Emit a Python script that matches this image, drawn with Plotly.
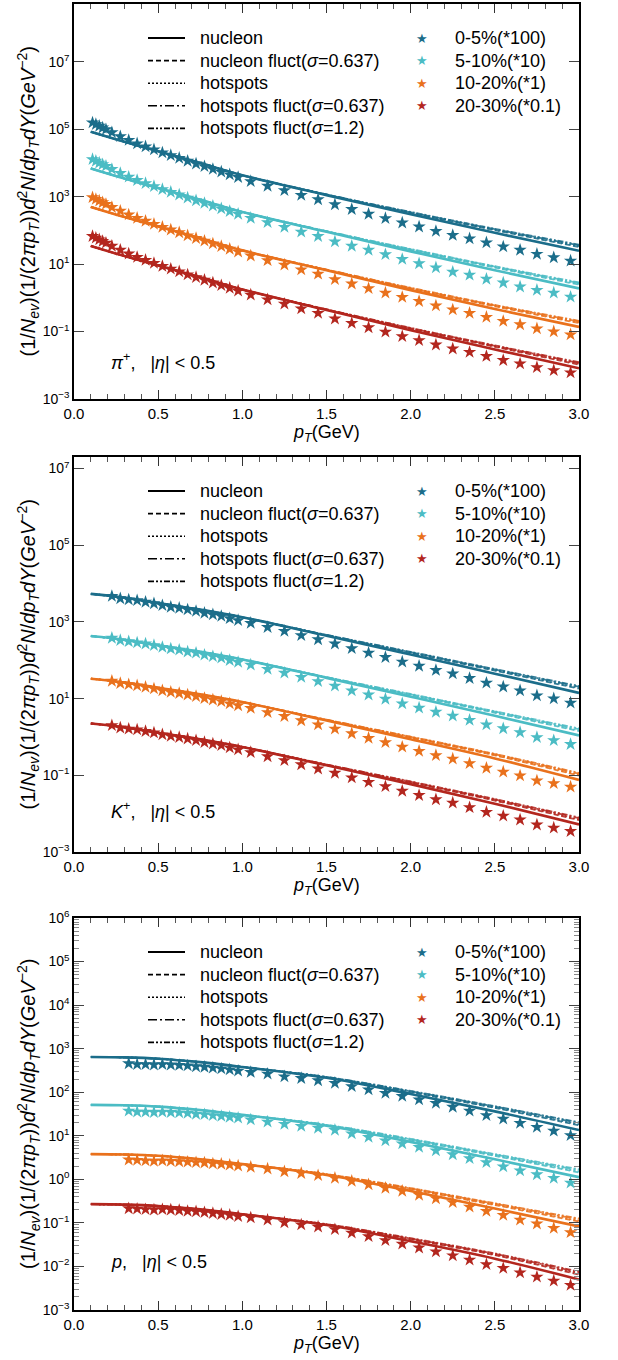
import plotly.graph_objects as go

FONT = "Liberation Sans, Arial, sans-serif"
COLORS = ["#1b6d8a", "#4bbcc4", "#e9711c", "#b3261e"]
CENT_LABELS = ["0-5%(*100)", "5-10%(*10)", "10-20%(*1)", "20-30%(*0.1)"]
MODEL_LABELS = ["nucleon", "nucleon fluct(<i>σ</i>=0.637)", "hotspots",
                "hotspots fluct(<i>σ</i>=0.637)", "hotspots fluct(<i>σ</i>=1.2)"]

# model curves p_T grid
PT_MODEL = [0.1, 0.3, 0.5, 0.75, 1.0, 1.5, 2.0, 2.5, 3.0]

# ---------------- pi+ ----------------
PI_NUCLEON = [
    [8.5e4, 4.27e4, 2.24e4, 1.0e4, 4370, 1120, 302, 85.1, 25.1],
    [6920, 3470, 1820, 813, 355, 91.2, 24.0, 6.61, 1.91],
    [501, 251, 132, 58.9, 25.7, 6.61, 1.70, 0.468, 0.138],
    [34.7, 17.4, 9.12, 4.07, 1.78, 0.437, 0.110, 0.0295, 0.00813],
]
PI_NUCLEON_FLUCT = [
    [8.5e4, 4.27e4, 2.24e4, 1.0e4, 4370, 1146, 331, 102.3, 32.3],
    [6920, 3470, 1820, 813, 355, 93.3, 26.3, 7.95, 2.46],
    [501, 251, 132, 58.9, 25.7, 6.76, 1.86, 0.563, 0.178],
    [34.7, 17.4, 9.12, 4.07, 1.78, 0.447, 0.121, 0.0355, 0.01047],
]
PI_HOTSPOTS = [
    [8.5e4, 4.27e4, 2.24e4, 1.0e4, 4370, 1146, 339, 104.7, 33.9],
    [6920, 3470, 1820, 813, 355, 93.3, 26.9, 8.13, 2.58],
    [501, 251, 132, 58.9, 25.7, 6.76, 1.91, 0.576, 0.186],
    [34.7, 17.4, 9.12, 4.07, 1.78, 0.447, 0.123, 0.0363, 0.01097],
]
PI_HOTSPOTS_FLUCT_0637 = [
    [8.5e4, 4.27e4, 2.24e4, 1.0e4, 4370, 1173, 347, 109.6, 36.3],
    [6920, 3470, 1820, 813, 355, 95.5, 27.6, 8.51, 2.76],
    [501, 251, 132, 58.9, 25.7, 6.92, 1.95, 0.603, 0.199],
    [34.7, 17.4, 9.12, 4.07, 1.78, 0.458, 0.126, 0.0380, 0.01175],
]
PI_HOTSPOTS_FLUCT_12 = [
    [8.5e4, 4.27e4, 2.24e4, 1.0e4, 4370, 1173, 355, 112.2, 38.0],
    [6920, 3470, 1820, 813, 355, 95.5, 28.2, 8.71, 2.89],
    [501, 251, 132, 58.9, 25.7, 6.92, 2.00, 0.617, 0.209],
    [34.7, 17.4, 9.12, 4.07, 1.78, 0.458, 0.129, 0.0389, 0.01231],
]
PI_PT = [0.11, 0.13, 0.15, 0.17, 0.19, 0.225, 0.275, 0.325, 0.375, 0.425, 0.475,
         0.525, 0.575, 0.625, 0.675, 0.725, 0.775, 0.825, 0.875, 0.925, 0.975,
         1.05, 1.15, 1.25, 1.35, 1.45, 1.55, 1.65, 1.75, 1.85, 1.95,
         2.05, 2.15, 2.25, 2.35, 2.45, 2.55, 2.65, 2.75, 2.85, 2.95]
PI_DATA = [
    [1.58e5, 1.41e5, 1.26e5, 1.12e5, 1.0e5, 8.13e4, 6.17e4, 4.79e4, 3.80e4, 3.09e4, 2.51e4,
     2.04e4, 1.70e4, 1.41e4, 1.15e4, 9550, 7940, 6610, 5500, 4570, 3800,
     2880, 2090, 1550, 1120, 832, 589, 427, 309, 229, 170,
     129, 95.5, 72.4, 57.5, 43.7, 33.1, 26.3, 20.0, 15.8, 12.6],
    [1.29e4, 1.15e4, 1.02e4, 9120, 8130, 6610, 5010, 3890, 3090, 2510, 2040,
     1660, 1380, 1150, 933, 776, 646, 537, 447, 372, 309,
     234, 174, 126, 91.2, 67.6, 46.8, 34.7, 26.3, 19.5, 14.1,
     10.5, 7.94, 5.89, 4.79, 3.63, 2.82, 2.14, 1.70, 1.41, 1.07],
    [955, 851, 759, 676, 603, 490, 380, 295, 234, 191, 155,
     126, 105, 87.1, 70.8, 58.9, 49.0, 40.7, 33.9, 28.2, 23.4,
     17.8, 12.9, 9.55, 6.92, 5.13, 3.55, 2.63, 1.91, 1.41, 1.05,
     0.794, 0.589, 0.447, 0.355, 0.269, 0.204, 0.162, 0.123, 0.100, 0.0813],
    [67.6, 60.3, 53.7, 47.9, 42.7, 34.7, 26.3, 20.4, 16.2, 13.2, 10.7,
     8.71, 7.24, 6.03, 4.90, 4.07, 3.39, 2.82, 2.34, 1.95, 1.62,
     1.23, 0.891, 0.661, 0.479, 0.355, 0.240, 0.178, 0.132, 0.0977, 0.0724,
     0.0550, 0.0407, 0.0309, 0.0245, 0.0186, 0.0141, 0.0112, 0.00871, 0.00708, 0.00603],
]

# ---------------- K+ ----------------
K_NUCLEON = [
    [5370, 4270, 3090, 2090, 1320, 437, 141, 44.7, 14.1],
    [427, 339, 245, 166, 105, 34.7, 11.2, 3.55, 1.10],
    [33.1, 26.3, 19.1, 12.9, 8.13, 2.69, 0.871, 0.275, 0.0759],
    [2.24, 1.78, 1.29, 0.871, 0.550, 0.182, 0.0589, 0.0182, 0.00525],
]
K_NUCLEON_FLUCT = [
    [5370, 4270, 3090, 2090, 1320, 447, 155, 53.7, 18.2],
    [427, 339, 245, 166, 105, 35.5, 12.3, 4.27, 1.42],
    [33.1, 26.3, 19.1, 12.9, 8.13, 2.75, 0.955, 0.331, 0.0978],
    [2.24, 1.78, 1.29, 0.871, 0.550, 0.186, 0.0646, 0.0219, 0.00676],
]
K_HOTSPOTS = [
    [5370, 4270, 3090, 2090, 1320, 447, 158, 55.0, 19.0],
    [427, 339, 245, 166, 105, 35.5, 12.6, 4.37, 1.48],
    [33.1, 26.3, 19.1, 12.9, 8.13, 2.75, 0.977, 0.338, 0.1024],
    [2.24, 1.78, 1.29, 0.871, 0.550, 0.186, 0.0661, 0.0224, 0.00708],
]
K_HOTSPOTS_FLUCT_0637 = [
    [5370, 4270, 3090, 2090, 1320, 458, 162, 57.6, 20.4],
    [427, 339, 245, 166, 105, 36.3, 12.9, 4.57, 1.59],
    [33.1, 26.3, 19.1, 12.9, 8.13, 2.82, 1.00, 0.354, 0.1097],
    [2.24, 1.78, 1.29, 0.871, 0.550, 0.191, 0.0676, 0.0234, 0.00759],
]
K_HOTSPOTS_FLUCT_12 = [
    [5370, 4270, 3090, 2090, 1320, 458, 166, 58.9, 21.3],
    [427, 339, 245, 166, 105, 36.3, 13.2, 4.68, 1.67],
    [33.1, 26.3, 19.1, 12.9, 8.13, 2.82, 1.02, 0.362, 0.1149],
    [2.24, 1.78, 1.29, 0.871, 0.550, 0.191, 0.0692, 0.0240, 0.00795],
]
K_PT = [0.225, 0.275, 0.325, 0.375, 0.425, 0.475, 0.525, 0.575, 0.625, 0.675,
        0.725, 0.775, 0.825, 0.875, 0.925, 0.975,
        1.05, 1.15, 1.25, 1.35, 1.45, 1.55, 1.65, 1.75, 1.85, 1.95,
        2.05, 2.15, 2.25, 2.35, 2.45, 2.55, 2.65, 2.75, 2.85, 2.95]
K_DATA = [
    [4680, 4070, 3800, 3630, 3310, 3020, 2690, 2450, 2290, 2090,
     1910, 1700, 1550, 1410, 1230, 1100,
     933, 724, 575, 447, 347, 269, 204, 155, 120, 91.2,
     70.8, 55.0, 44.7, 33.9, 25.7, 20.4, 16.2, 12.0, 10.0, 7.76],
    [380, 331, 309, 288, 269, 245, 219, 200, 186, 166,
     155, 138, 126, 115, 100, 89.1,
     75.9, 58.9, 46.8, 36.3, 28.2, 21.4, 16.2, 12.6, 9.77, 7.41,
     5.75, 4.47, 3.55, 2.75, 2.09, 1.66, 1.32, 0.977, 0.813, 0.646],
    [28.8, 25.1, 23.4, 21.9, 20.0, 18.2, 16.2, 14.8, 13.8, 12.6,
     11.5, 10.2, 9.33, 8.51, 7.41, 6.61,
     5.62, 4.37, 3.47, 2.69, 2.09, 1.62, 1.23, 0.933, 0.724, 0.550,
     0.427, 0.331, 0.269, 0.204, 0.155, 0.123, 0.0977, 0.0724, 0.0617, 0.0501],
    [2.00, 1.74, 1.62, 1.55, 1.41, 1.29, 1.15, 1.05, 0.977, 0.891,
     0.813, 0.724, 0.661, 0.603, 0.525, 0.468,
     0.398, 0.309, 0.245, 0.191, 0.148, 0.115, 0.0871, 0.0661, 0.0513, 0.0389,
     0.0302, 0.0234, 0.0191, 0.0145, 0.0110, 0.00871, 0.00692, 0.00513, 0.00427, 0.00347],
]

# ---------------- p ----------------
P_NUCLEON = [
    [646, 631, 589, 490, 380, 214, 91.2, 36.3, 13.5],
    [51.3, 50.1, 46.8, 38.9, 30.2, 17.0, 7.24, 2.88, 1.12],
    [3.80, 3.72, 3.47, 2.88, 2.24, 1.26, 0.537, 0.214, 0.0832],
    [0.269, 0.263, 0.245, 0.204, 0.158, 0.0891, 0.0380, 0.0151, 0.00501],
]
P_NUCLEON_FLUCT = [
    [646, 631, 589, 490, 380, 219, 100, 43.6, 17.4],
    [51.3, 50.1, 46.8, 38.9, 30.2, 17.4, 7.94, 3.46, 1.44],
    [3.80, 3.72, 3.47, 2.88, 2.24, 1.29, 0.589, 0.257, 0.107],
    [0.269, 0.263, 0.245, 0.204, 0.158, 0.0912, 0.0416, 0.0182, 0.00645],
]
P_HOTSPOTS = [
    [646, 631, 589, 490, 380, 219, 102, 44.6, 18.2],
    [51.3, 50.1, 46.8, 38.9, 30.2, 17.4, 8.12, 3.54, 1.51],
    [3.80, 3.72, 3.47, 2.88, 2.24, 1.29, 0.603, 0.263, 0.112],
    [0.269, 0.263, 0.245, 0.204, 0.158, 0.0912, 0.0426, 0.0186, 0.00676],
]
P_HOTSPOTS_FLUCT_0637 = [
    [646, 631, 589, 490, 380, 224, 105, 46.8, 19.5],
    [51.3, 50.1, 46.8, 38.9, 30.2, 17.8, 8.31, 3.71, 1.62],
    [3.80, 3.72, 3.47, 2.88, 2.24, 1.32, 0.616, 0.276, 0.120],
    [0.269, 0.263, 0.245, 0.204, 0.158, 0.0933, 0.0436, 0.0194, 0.00724],
]
P_HOTSPOTS_FLUCT_12 = [
    [646, 631, 589, 490, 380, 224, 107, 47.8, 20.4],
    [51.3, 50.1, 46.8, 38.9, 30.2, 17.8, 8.51, 3.80, 1.70],
    [3.80, 3.72, 3.47, 2.88, 2.24, 1.32, 0.631, 0.282, 0.126],
    [0.269, 0.263, 0.245, 0.204, 0.158, 0.0933, 0.0447, 0.0199, 0.00759],
]
P_PT = [0.325, 0.375, 0.425, 0.475, 0.525, 0.575, 0.625, 0.675, 0.725, 0.775,
        0.825, 0.875, 0.925, 0.975,
        1.05, 1.15, 1.25, 1.35, 1.45, 1.55, 1.65, 1.75, 1.85, 1.95,
        2.05, 2.15, 2.25, 2.35, 2.45, 2.55, 2.65, 2.75, 2.85, 2.95]
P_DATA = [
    [457, 437, 437, 427, 437, 427, 417, 407, 389, 380, 363, 347, 331, 309,
     288, 263, 229, 209, 186, 162, 136, 115, 95.5, 81.3,
     67.6, 56.2, 45.7, 37.2, 29.5, 24.5, 19.5, 15.8, 12.9, 10.2],
    [37.2, 35.5, 35.5, 34.7, 35.5, 34.7, 33.9, 33.1, 31.6, 30.9, 29.5, 28.2, 26.9, 25.7,
     23.4, 20.9, 18.6, 16.6, 15.1, 13.5, 11.2, 9.33, 7.76, 6.61,
     5.50, 4.57, 3.72, 3.02, 2.45, 1.95, 1.58, 1.29, 1.07, 0.832],
    [2.82, 2.75, 2.69, 2.63, 2.69, 2.63, 2.57, 2.51, 2.45, 2.40, 2.29, 2.24, 2.14, 2.04,
     1.91, 1.74, 1.51, 1.38, 1.23, 1.07, 0.912, 0.759, 0.631, 0.537,
     0.437, 0.363, 0.295, 0.234, 0.186, 0.151, 0.117, 0.0955, 0.0759, 0.0603],
    [0.214, 0.209, 0.204, 0.200, 0.204, 0.200, 0.195, 0.186, 0.182, 0.174, 0.166, 0.158, 0.151, 0.141,
     0.132, 0.117, 0.102, 0.0912, 0.0813, 0.0708, 0.0589, 0.0490, 0.0398, 0.0331,
     0.0269, 0.0219, 0.0178, 0.0141, 0.0112, 0.00912, 0.00724, 0.00575, 0.00468, 0.00372],
]

PARTICLE_LABELS = ["<i>π</i><sup>+</sup>,\u00a0\u00a0\u00a0|<i>η</i>| &lt; 0.5",
                   "<i>K</i><sup>+</sup>,\u00a0\u00a0\u00a0|<i>η</i>| &lt; 0.5",
                   "<i>p</i>,\u00a0\u00a0\u00a0|<i>η</i>| &lt; 0.5"]

# ---------------- layout geometry ----------------
W, H = 618, 1360
ML, MR, MT, MB = 74, 39, 4, 50
PLOT_W = W - ML - MR
PLOT_H = H - MT - MB
panel_px = [(4, 399), (457, 852), (918, 1310)]          # top, bottom pixel rows
yranges = [[-3, 8.72], [-3, 7.3], [-3, 6]]
label_y = [0.094, 0.106, 0.122]

def pdom(top, bot):
    return [(H - MB - bot) / PLOT_H, (H - MB - top) / PLOT_H]

panels = [
    dict(models=[PI_NUCLEON, PI_NUCLEON_FLUCT, PI_HOTSPOTS, PI_HOTSPOTS_FLUCT_0637, PI_HOTSPOTS_FLUCT_12],
         pt=PI_PT, data=PI_DATA),
    dict(models=[K_NUCLEON, K_NUCLEON_FLUCT, K_HOTSPOTS, K_HOTSPOTS_FLUCT_0637, K_HOTSPOTS_FLUCT_12],
         pt=K_PT, data=K_DATA),
    dict(models=[P_NUCLEON, P_NUCLEON_FLUCT, P_HOTSPOTS, P_HOTSPOTS_FLUCT_0637, P_HOTSPOTS_FLUCT_12],
         pt=P_PT, data=P_DATA),
]

DASHES = ["solid", "5px,3px", "2px,2px", "9px,3px,2px,3px", "6px,2px,2px,2px,2px,2px"]
WIDTHS = [2.6, 1.8, 1.8, 1.8, 1.8]

fig = go.Figure()
for i, p in enumerate(panels):
    xa = "x" if i == 0 else f"x{i+1}"
    ya = "y" if i == 0 else f"y{i+1}"
    order = [1, 2, 3, 4, 0]
    for m in order:
        model = p["models"][m]
        for c in range(4):
            fig.add_trace(go.Scatter(
                x=PT_MODEL, y=model[c], mode="lines", xaxis=xa, yaxis=ya,
                line=dict(color=COLORS[c], width=WIDTHS[m], dash=DASHES[m], shape="spline"),
                opacity=1.0 if m == 0 else 0.85,
                showlegend=False, hoverinfo="skip"))
    for c in range(4):
        fig.add_trace(go.Scatter(
            x=p["pt"], y=p["data"][c], mode="markers", xaxis=xa, yaxis=ya,
            marker=dict(symbol="star", size=10, color=COLORS[c], line=dict(width=0)),
            showlegend=False, hoverinfo="skip"))

layout = dict(
    template="none",
    width=W, height=H, margin=dict(l=ML, r=MR, t=MT, b=MB, autoexpand=False),
    paper_bgcolor="white", plot_bgcolor="white",
    font=dict(family=FONT, color="black"), showlegend=False,
)

annotations = []
shapes = []
for i in range(3):
    sfx = "" if i == 0 else str(i + 1)
    top, bot = panel_px[i]
    ph = bot - top
    lo, hi = yranges[i]
    if i < 2:
        exps = list(range(-3, 8, 2))
    else:
        exps = list(range(-3, 7))
    tickvals = [10.0 ** e for e in exps]
    ticktext = ["10<sup>%s</sup>" % (str(e).replace("-", "−")) for e in exps]
    layout["xaxis" + sfx] = dict(
        domain=[0, 1], anchor="y" + sfx, range=[0, 3], automargin=False,
        ticks="inside", ticklen=9, tickwidth=1.2, tickcolor="#333",
        tick0=0, dtick=0.5, tickformat=".1f",
        minor=dict(ticks="inside", ticklen=5, dtick=0.1, tickwidth=1, tickcolor="#555", showgrid=False),
        showline=True, linecolor="black", linewidth=1.5, mirror="allticks",
        showgrid=False, zeroline=False,
        tickfont=dict(size=15, family=FONT, color="black"))
    ydict = dict(
        domain=pdom(top, bot), anchor="x" + sfx, type="log", range=[lo, hi], automargin=False,
        tickvals=tickvals, ticktext=ticktext,
        ticks="inside", ticklen=10, tickwidth=1.2, tickcolor="#444",
        showline=True, linecolor="black", linewidth=1.5, mirror="allticks",
        showgrid=False, zeroline=False,
        tickfont=dict(size=14, family=FONT, color="black"))
    if i == 2:
        ydict["minor"] = dict(ticks="inside", ticklen=5, dtick="D1", tickwidth=1,
                              tickcolor="#888", showgrid=False)
    layout["yaxis" + sfx] = ydict

    xd = "x" + sfx + " domain"
    yd = "y" + sfx + " domain"
    # axis titles
    annotations.append(dict(
        xref=xd, yref=yd, x=(28 - ML) / PLOT_W, y=0.5, xanchor="center", yanchor="middle",
        textangle=-90, showarrow=False, font=dict(size=20, family=FONT, color="black"),
        text="(1/<i>N</i><sub><i>ev</i></sub>)(1/(2<i>πp</i><sub><i>T</i></sub>))<i>d</i><sup>2</sup><i>N</i>/<i>dp</i><sub><i>T</i></sub><i>dY</i>(<i>GeV</i><sup>−2</sup>)"))
    annotations.append(dict(
        xref=xd, yref=yd, x=0.5, y=-34 / ph, xanchor="center", yanchor="middle",
        showarrow=False, font=dict(size=18, family=FONT, color="black"),
        text="<i>p</i><sub><i>T</i></sub>(GeV)"))
    annotations.append(dict(
        xref=xd, yref=yd, x=(109 - ML) / PLOT_W, y=label_y[i], xanchor="left", yanchor="middle",
        showarrow=False, font=dict(size=18, family=FONT, color="black"),
        text=PARTICLE_LABELS[i]))
    # legend
    for r in range(5):
        yy = 1 - (34 + 22.6 * r) / ph
        shapes.append(dict(
            type="line", xref=xd, yref=yd, x0=(148 - ML) / PLOT_W, x1=(185 - ML) / PLOT_W, y0=yy, y1=yy,
            line=dict(color="black", width=2.2 if r == 0 else 1.6, dash=DASHES[r])))
        annotations.append(dict(
            xref=xd, yref=yd, x=(198 - ML) / PLOT_W, y=yy, xanchor="left", yanchor="middle",
            showarrow=False, font=dict(size=18, family=FONT, color="black"), text=MODEL_LABELS[r]))
    for c in range(4):
        yy = 1 - (34 + 22.6 * c) / ph
        annotations.append(dict(
            xref=xd, yref=yd, x=(422 - ML) / PLOT_W, y=yy, xanchor="center", yanchor="middle",
            showarrow=False, font=dict(size=13, family="DejaVu Sans", color=COLORS[c]), text="★"))
        annotations.append(dict(
            xref=xd, yref=yd, x=(453 - ML) / PLOT_W, y=yy, xanchor="left", yanchor="middle",
            showarrow=False, font=dict(size=18, family=FONT, color="black"), text=CENT_LABELS[c]))

layout["annotations"] = annotations
layout["shapes"] = shapes
fig.update_layout(**layout)
fig.write_html("out.html")
